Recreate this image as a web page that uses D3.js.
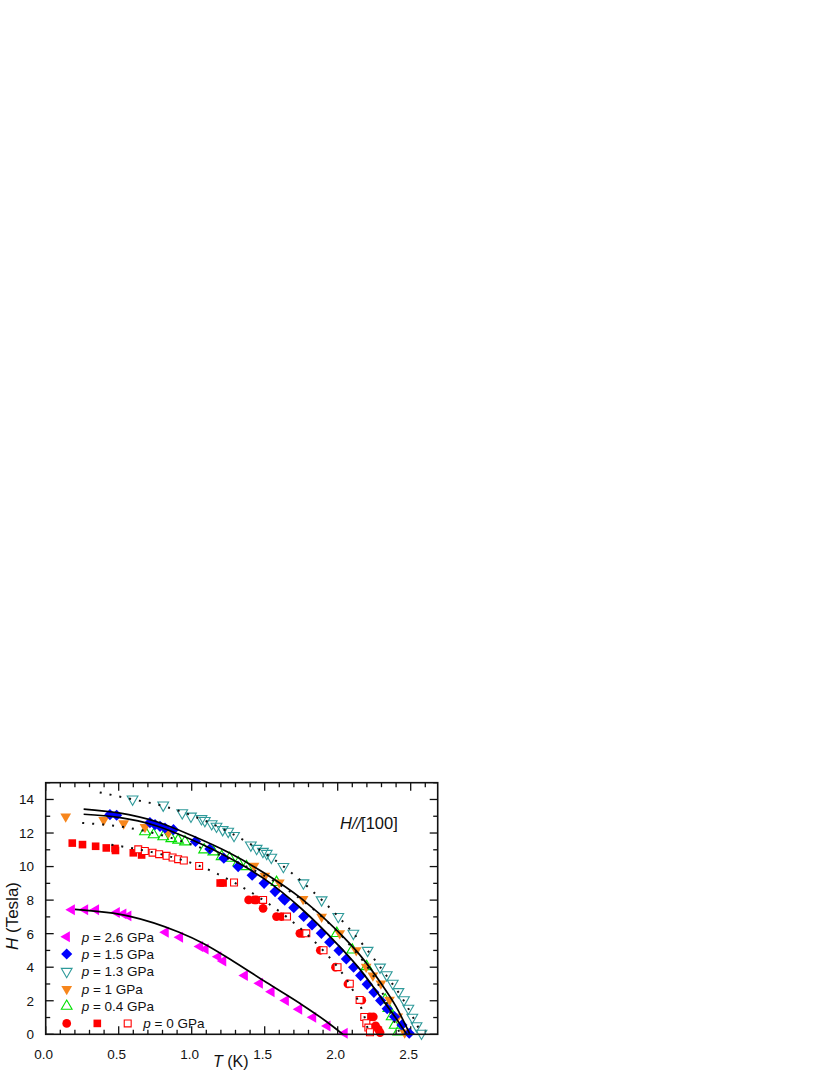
<!DOCTYPE html>
<html>
<head>
<meta charset="utf-8">
<script src="https://cdn.jsdelivr.net/npm/d3@7"></script>
<style>
  body { margin: 0; background: #fff; }
  svg { display: block; }
  text { font-family: "Liberation Sans", Arial, sans-serif; fill: #111; }
</style>
</head>
<body>
<div id="chart"></div>
<script>
// ---- data: [T (K), H (Tesla)] ----
var p26 = [[0.178,7.42],[0.269,7.42],[0.344,7.42],[0.486,7.26],[0.531,7.18],[0.565,7.06],[0.821,6.08],[0.919,5.79],
  [1.056,5.23],[1.094,5.09],[1.181,4.63],[1.215,4.37],[1.363,3.50],[1.466,3.04],[1.546,2.54],[1.644,2.01],[1.735,1.49],
  [1.831,1.01],[1.929,0.50],[2.047,0.06]];
var p15 = [[0.44,13.1],[0.486,13.06],[0.714,12.62],[0.749,12.5],[0.783,12.4],[0.817,12.3],[0.875,12.2],[1.026,11.5],
  [1.124,11.05],[1.22,10.5],[1.318,10.0],[1.414,9.48],[1.496,9.0],[1.571,8.51],[1.626,8.1],[1.637,8.0],[1.699,7.55],
  [1.767,7.02],[1.824,6.52],[1.888,6.02],[1.945,5.49],[2.009,4.99],[2.059,4.49],[2.109,4.0],[2.157,3.5],[2.202,2.98],
  [2.248,2.5],[2.294,2.01],[2.339,1.53],[2.389,1.05],[2.44,0.56],[2.49,0.06]];
var p13 = [[0.595,14.02],[0.805,13.66],[0.935,13.2],[0.995,13.0],[1.067,12.85],[1.09,12.74],[1.137,12.55],[1.17,12.4],
  [1.212,12.2],[1.25,12.1],[1.29,11.85],[1.405,11.28],[1.445,11.08],[1.488,10.9],[1.514,10.78],[1.545,10.55],[1.628,10.0],
  [1.765,9.02],[1.89,8.01],[2.004,7.02],[2.107,6.02],[2.205,5.0],[2.29,4.0],[2.336,3.54],[2.377,3.04],[2.416,2.54],
  [2.454,2.05],[2.484,1.55],[2.511,1.01],[2.54,0.5],[2.574,0.06]];
var p10 = [[0.137,12.98],[0.397,12.77],[0.534,12.57],[0.68,12.35],[0.84,12.02],[1.427,10.04],[1.501,9.44],[1.6,9.04],
  [1.763,8.06],[1.89,7.0],[2.014,6.02],[2.127,5.01],[2.195,4.02],[2.241,3.5],[2.296,3.02],[2.355,2.05],[2.411,1.05],[2.459,0.1]];
var p04 = [[0.68,12.08],[0.739,11.9],[0.805,11.78],[0.86,11.67],[0.907,11.58],[0.954,11.48],[1.085,11.0],[1.148,10.88],
  [1.205,10.6],[1.26,10.5],[1.319,10.23],[1.375,10.0],[1.581,9.06],[1.994,6.02],[2.1,5.03],[2.198,4.04],[2.325,2.05],
  [2.347,1.55],[2.37,1.05],[2.39,0.55],[2.415,0.15]];
var p0Circles = [[1.39,8.01],[1.428,8.01],[1.443,8.01],[1.489,7.51],[1.581,7.02],[1.615,7.02],[1.741,6.02],[1.762,6.02],
  [1.881,5.01],[1.985,4.0],[2.07,3.0],[2.165,2.03],[2.221,1.04],[2.244,1.04],[2.26,0.5],[2.278,0.3],[2.29,0.1]];
var p0Squares = [[0.182,11.4],[0.252,11.31],[0.342,11.21],[0.415,11.11],[0.475,11.08],[0.478,10.96],[0.6,10.82],
  [0.657,10.69],[1.195,9.02],[1.215,9.02]];
var p0Open = [[0.634,11.03],[0.679,10.93],[0.732,10.83],[0.777,10.74],[0.828,10.64],[0.869,10.54],[0.907,10.44],
  [0.946,10.36],[1.051,10.04],[1.29,9.05],[1.489,8.01],[1.653,7.02],[1.785,6.02],[1.903,5.01],[1.999,4.0],[2.083,3.02],
  [2.15,2.05],[2.182,1.03],[2.196,0.66],[2.21,0.4],[2.221,0.12]];

// fit curves (solid) and guide curves (dotted)
var fitUpper = [[0.26,13.43],[0.5,13.2],[0.75,12.7],[1.0,11.85],[1.25,10.85],[1.5,9.6],[1.75,8.1],[2.0,6.15],[2.15,4.75],
  [2.3,3.0],[2.4,1.65],[2.495,0]];
var fitLower = [[0.26,13.12],[0.5,12.93],[0.75,12.45],[1.0,11.6],[1.25,10.55],[1.5,9.25],[1.75,7.5],[2.0,5.35],[2.15,3.9],
  [2.3,2.15],[2.4,0.95],[2.473,0]];
var fit26 = [[0.2,7.45],[0.57,7.05],[0.91,6.1],[1.08,5.42],[1.29,4.33],[1.51,3.1],[1.74,1.85],[1.92,0.78],[2.036,0]];
var dot13 = [[0.37,14.42],[0.6,14.0],[0.8,13.62],[1.0,13.05],[1.2,12.3],[1.4,11.35],[1.6,10.2],[1.8,8.75],[2.0,7.05],
  [2.2,5.05],[2.35,3.3],[2.45,2.05],[2.52,0.95],[2.575,0]];
var dot04 = [[0.25,12.6],[0.5,12.4],[0.7,12.08],[0.9,11.6],[1.1,11.0],[1.3,10.3],[1.5,9.45],[1.7,8.35],[1.9,6.95],
  [2.1,5.15],[2.25,3.4],[2.3,2.6],[2.37,1.1],[2.43,0]];
var dot0 = [[0.45,11.3],[0.65,11.0],[0.85,10.6],[1.05,10.05],[1.29,9.05],[1.49,8.0],[1.65,7.0],[1.785,6.0],[1.9,5.0],
  [2.0,4.0],[2.08,3.0],[2.14,2.0],[2.185,1.0],[2.215,0]];

var xTicks = [0.0, 0.5, 1.0, 1.5, 2.0, 2.5];
var yTicks = [0, 2, 4, 6, 8, 10, 12, 14];
var legendLabels = ['2.6', '1.5', '1.3', '1', '0.4', '0'];

// ---- layout ----
var W = 830, H = 1075;
var mLeft = 45.7, mRight = 437.7, mTop = 782.7, mBottom = 1034.3;

var svg = d3.select('#chart').append('svg').attr('width', W).attr('height', H);

var x = d3.scaleLinear().domain([0, 2.685]).range([mLeft, mRight]);
var y = d3.scaleLinear().domain([0, 15]).range([mBottom, mTop]);

var colors = {
  magenta: '#ff00ff', blue: '#0000ff', teal: '#2f9a9a',
  orange: '#f7861c', green: '#00e000', red: '#ff0000'
};

// ---- axes (ticks pointing inward) ----
var minorX = d3.range(0, 2.69, 0.1);
var minorY = d3.range(0, 15.01, 1);

function isMajorX(v) { return Math.abs(v * 2 - Math.round(v * 2)) < 1e-6; }
function isMajorY(v) { return Math.round(v) % 2 === 0; }

var axisG = svg.append('g').attr('stroke', '#111').attr('stroke-width', 1.3);
minorX.forEach(function(v) {
  var len = isMajorX(v) ? 8 : 4.5;
  axisG.append('line').attr('x1', x(v)).attr('x2', x(v)).attr('y1', mBottom).attr('y2', mBottom - len);
  axisG.append('line').attr('x1', x(v)).attr('x2', x(v)).attr('y1', mTop).attr('y2', mTop + len);
});
minorY.forEach(function(v) {
  var len = isMajorY(v) ? 8 : 4.5;
  axisG.append('line').attr('x1', mLeft).attr('x2', mLeft + len).attr('y1', y(v)).attr('y2', y(v));
  axisG.append('line').attr('x1', mRight).attr('x2', mRight - len).attr('y1', y(v)).attr('y2', y(v));
});

svg.selectAll('.xlab').data(xTicks).enter().append('text')
  .attr('x', function(d) { return x(d) - 2; })
  .attr('y', 1059)
  .attr('text-anchor', 'middle')
  .style('font-size', '13.5px')
  .text(function(d) { return d3.format('.1f')(d); });

svg.selectAll('.ylab').data(yTicks).enter().append('text')
  .attr('x', 34)
  .attr('y', function(d) { return y(d); })
  .attr('dy', '0.36em')
  .attr('text-anchor', 'end')
  .style('font-size', '13.5px')
  .text(function(d) { return d; });

var xt = svg.append('text').attr('x', 213).attr('y', 1067).style('font-size', '16px');
xt.append('tspan').style('font-style', 'italic').text('T');
xt.append('tspan').text(' (K)');

var yt = svg.append('text').attr('transform', 'translate(18,916) rotate(-90)')
  .attr('text-anchor', 'middle').style('font-size', '17px');
yt.append('tspan').style('font-style', 'italic').text('H');
yt.append('tspan').text(' (Tesla)');

var ann = svg.append('text').attr('x', 340).attr('y', 829).style('font-size', '16.5px');
ann.append('tspan').style('font-style', 'italic').text('H//');
ann.append('tspan').text('[100]');

// ---- markers ----
function sym(type, size, rot) {
  var path = d3.symbol().type(type).size(size)();
  return { path: path, rot: rot || 0 };
}
var mk = {
  left: sym(d3.symbolTriangle, 52, -90),
  diamond: sym(d3.symbolSquare, 62, 45),
  down: sym(d3.symbolTriangle, 50, 180),
  up: sym(d3.symbolTriangle, 50, 0),
  square: sym(d3.symbolSquare, 58, 0),
  open: sym(d3.symbolSquare, 48, 0),
  circle: sym(d3.symbolCircle, 60, 0)
};

function drawSeries(data, m, fill, stroke) {
  svg.append('g').selectAll('path').data(data).enter().append('path')
    .attr('d', m.path)
    .attr('transform', function(d) {
      return 'translate(' + x(d[0]) + ',' + y(d[1]) + ') rotate(' + m.rot + ')';
    })
    .attr('fill', fill)
    .attr('stroke', stroke || 'none')
    .attr('stroke-width', stroke ? 1.1 : 0);
}

drawSeries(p0Squares, mk.square, colors.red);
drawSeries(p0Circles, mk.circle, colors.red);
drawSeries(p0Open, mk.open, '#fff', colors.red);
drawSeries(p04, mk.up, 'none', colors.green);
drawSeries(p10, mk.down, colors.orange);
drawSeries(p13, mk.down, 'none', colors.teal);
drawSeries(p15, mk.diamond, colors.blue);
drawSeries(p26, mk.left, colors.magenta);

// ---- curves ----
var line = d3.line()
  .x(function(d) { return x(d[0]); })
  .y(function(d) { return y(d[1]); })
  .curve(d3.curveMonotoneX);

[dot13, dot04, dot0].forEach(function(c) {
  svg.append('path').attr('d', line(c)).attr('fill', 'none')
    .attr('stroke', '#111').attr('stroke-width', 2).attr('stroke-dasharray', '2,8');
});
[fitUpper, fitLower, fit26].forEach(function(c) {
  svg.append('path').attr('d', line(c)).attr('fill', 'none')
    .attr('stroke', '#000').attr('stroke-width', 1.7);
});

// ---- legend ----
var legendY = [936.7, 954, 971.5, 989, 1006.2, 1023.4];
var legendMk = [
  [mk.left, colors.magenta, null],
  [mk.diamond, colors.blue, null],
  [mk.down, 'none', colors.teal],
  [mk.down, colors.orange, null],
  [mk.up, 'none', colors.green]
];
legendMk.forEach(function(l, i) {
  svg.append('path').attr('d', l[0].path)
    .attr('transform', 'translate(66.7,' + legendY[i] + ') rotate(' + l[0].rot + ')')
    .attr('fill', l[1]).attr('stroke', l[2] || 'none').attr('stroke-width', l[2] ? 1.1 : 0);
});
svg.append('path').attr('d', mk.circle.path).attr('transform', 'translate(66.7,' + legendY[5] + ')').attr('fill', colors.red);
svg.append('path').attr('d', mk.square.path).attr('transform', 'translate(97.3,' + legendY[5] + ')').attr('fill', colors.red);
svg.append('path').attr('d', mk.open.path).attr('transform', 'translate(127.7,' + legendY[5] + ')')
  .attr('fill', '#fff').attr('stroke', colors.red).attr('stroke-width', 1.1);

legendLabels.forEach(function(lab, i) {
  var t = svg.append('text')
    .attr('x', i === 5 ? 143.3 : 81.7)
    .attr('y', legendY[i]).attr('dy', '0.36em')
    .style('font-size', '13.5px');
  t.append('tspan').style('font-style', 'italic').text('p');
  t.append('tspan').text(' = ' + lab + ' GPa');
});

// frame
svg.append('rect').attr('x', mLeft).attr('y', mTop).attr('width', mRight - mLeft).attr('height', mBottom - mTop)
  .attr('fill', 'none').attr('stroke', '#111').attr('stroke-width', 1.6);
</script>
</body>
</html>
